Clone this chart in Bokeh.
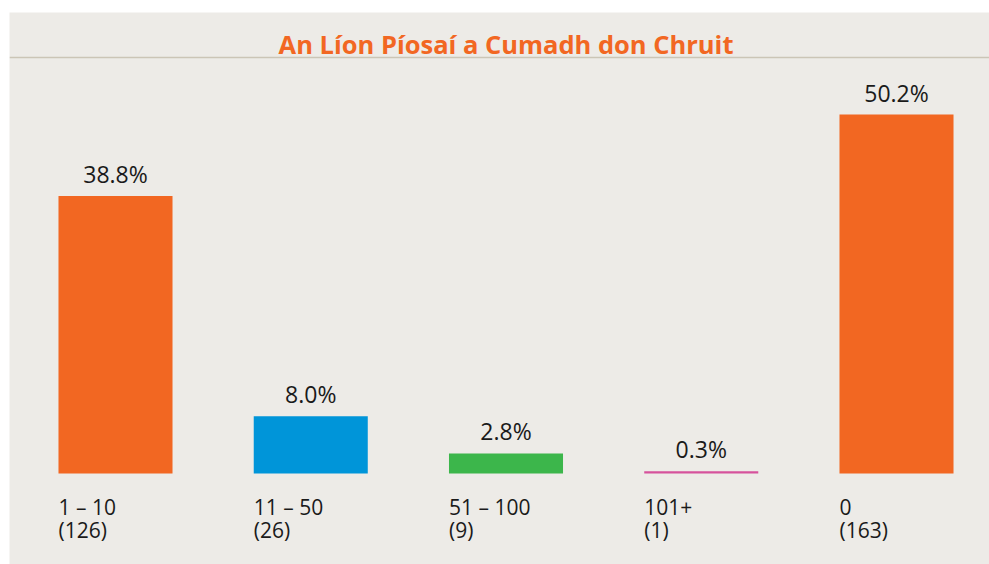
from bokeh.plotting import figure
from bokeh.models import Range1d, ColumnDataSource, Span, Label
from bokeh.core.properties import value
from bokeh.embed import file_html
from bokeh.resources import INLINE

# ---- data ----
title_text = "An Líon Píosaí a Cumadh don Chruit"
categories = ["1 – 10", "11 – 50", "51 – 100", "101+", "0"]
counts = [126, 26, 9, 1, 163]
percents = [38.8, 8.0, 2.8, 0.3, 50.2]
bar_colors = ["#f26722", "#0095d9", "#3cb64b", "#d6529c", "#f26722"]

# ---- styling / layout ----
BG = "#edebe7"
TEXT = "#1a1a1a"
ORANGE = "#f26722"
FONT = "Open Sans"
W, H = 989, 564
LEFT_PAD, TOP_PAD = 9, 12
FRAME_W, FRAME_H = W - LEFT_PAD, H - TOP_PAD
PX_PER_CAT = 195.25
PX_PER_PCT = 7.15
FIRST_CENTER_PX = 106   # from frame left
BASELINE_PX = 461       # from frame top
BAR_W = 0.584

x_start = -FIRST_CENTER_PX / PX_PER_CAT
x_end = x_start + FRAME_W / PX_PER_CAT
y_top = BASELINE_PX / PX_PER_PCT
y_bottom = y_top - FRAME_H / PX_PER_PCT

xs = list(range(len(categories)))
src = ColumnDataSource(dict(
    x=xs,
    xl=[x - BAR_W / 2 for x in xs],
    pct=percents,
    zero=[0] * len(xs),
    pct_label=[f"{v:.1f}%" for v in percents],
    cat=categories,
    cnt=[f"({c})" for c in counts],
    color=bar_colors,
))

p = figure(width=W, height=H, output_backend="svg", toolbar_location=None,
           x_range=Range1d(x_start, x_end), y_range=Range1d(y_bottom, y_top),
           min_border_left=LEFT_PAD, min_border_top=TOP_PAD,
           min_border_right=0, min_border_bottom=0)
p.axis.visible = False
p.grid.visible = False
p.outline_line_color = None
p.background_fill_color = BG
p.border_fill_color = "white"

p.vbar(x="x", top="pct", bottom="zero", width=BAR_W, fill_color="color",
       line_color=None, source=src)

p.text(x="x", y="pct", text="pct_label", source=src, text_align="center",
       text_baseline="alphabetic", y_offset=-22, text_font=value(FONT),
       text_font_size="23px", text_color=TEXT)

p.text(x="xl", y="zero", text="cat", source=src, text_align="left",
       text_baseline="alphabetic", y_offset=33, text_font=value(FONT),
       text_font_size="21px", text_color=TEXT)
p.text(x="xl", y="zero", text="cnt", source=src, text_align="left",
       text_baseline="alphabetic", y_offset=56, text_font=value(FONT),
       text_font_size="21px", text_color=TEXT)

# title and separator
title_y = (BASELINE_PX - 31) / PX_PER_PCT
sep_y = (BASELINE_PX - 45) / PX_PER_PCT
p.add_layout(Label(x=(len(categories) - 1) / 2, y=title_y, text=title_text,
                   text_align="center", text_baseline="alphabetic",
                   text_font=FONT, text_font_size="25.5px",
                   text_font_style="bold", text_color=ORANGE))
p.add_layout(Span(location=sep_y, dimension="width", line_color="#cbc5b6",
                  line_width=1.5))

open("out.html", "w").write(file_html(p, INLINE))
